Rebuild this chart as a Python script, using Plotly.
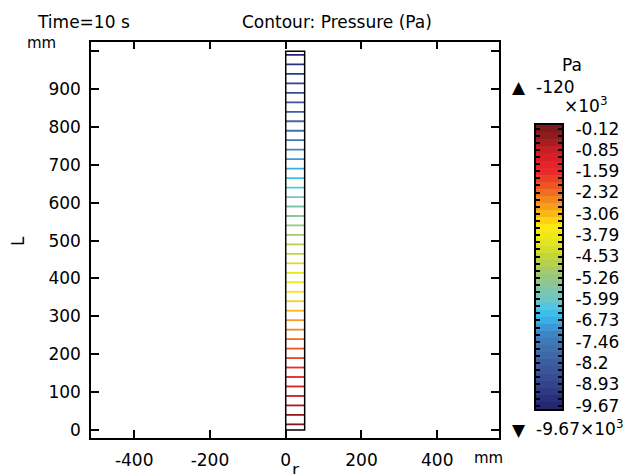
import plotly.graph_objects as go
from plotly.colors import sample_colorscale

# ---------------- data ----------------
# contour levels (Pa), from top of colour legend (-120) to bottom (-9670)
levels_pa = [-120, -365, -610, -855, -1099, -1344, -1589, -1834, -2079, -2324,
             -2569, -2814, -3058, -3303, -3548, -3793, -4038, -4283, -4528, -4773,
             -5017, -5262, -5507, -5752, -5997, -6242, -6487, -6732, -6976, -7221,
             -7466, -7711, -7956, -8201, -8446, -8691, -8935, -9180, -9425, -9670]
# height L (mm) at which each contour level lies
line_L = [15, 40, 65, 90, 115, 140, 165, 190, 215, 240,
          265, 290, 315, 340, 365, 390, 415, 440, 465, 490,
          515, 540, 565, 590, 615, 640, 665, 690, 715, 740,
          765, 790, 815, 840, 865, 890, 915, 940, 965, 990]
# domain (mm)
domain_r = [0, 50]
domain_L = [0, 1000]

x_tickvals = [-400, -200, 0, 200, 400]
x_ticktext = ['-400', '-200', '0', '200', '400']
y_tickvals = [0, 100, 200, 300, 400, 500, 600, 700, 800, 900, 1000]
y_ticktext = ['0', '100', '200', '300', '400', '500', '600', '700', '800', '900', ' ']
cb_ticktext = ['-0.12', '-0.85', '-1.59', '-2.32', '-3.06', '-3.79', '-4.53',
               '-5.26', '-5.99', '-6.73', '-7.46', '-8.2', '-8.93', '-9.67']

# ---------------- style ----------------
W, H = 627, 474
FONT = "DejaVu Sans"
rainbow = [
    [0.000, '#25266f'], [0.026, '#28307e'], [0.077, '#33448c'], [0.128, '#3a559a'],
    [0.180, '#3f68a8'], [0.231, '#4078b8'], [0.270, '#3f8ccc'], [0.305, '#38ace4'],
    [0.340, '#3ec4f0'], [0.372, '#62c6d6'], [0.410, '#7cc6b0'], [0.450, '#92c68c'],
    [0.490, '#a8ca64'], [0.540, '#c4d636'], [0.590, '#e4e420'], [0.636, '#f8ec14'],
    [0.667, '#fdd20e'], [0.700, '#f9b018'], [0.740, '#f48a20'], [0.795, '#ee5424'],
    [0.850, '#e8282a'], [0.885, '#e2202a'], [0.923, '#c41e26'], [0.962, '#9a1c20'],
    [1.000, '#7a1a1c'],
]

pmin, pmax = min(levels_pa), max(levels_pa)
fracs = [(p - pmin) / (pmax - pmin) for p in levels_pa]
line_colors = sample_colorscale(rainbow, fracs)


def px(x, y):
    return x / W, 1 - y / H


fig = go.Figure()

# contour lines
for L, c in zip(line_L, line_colors):
    fig.add_trace(go.Scatter(x=domain_r, y=[L, L], mode='lines',
                             line=dict(color=c, width=1.8),
                             hoverinfo='skip', showlegend=False))

# domain outline
fig.add_trace(go.Scatter(
    x=[domain_r[0], domain_r[1], domain_r[1], domain_r[0], domain_r[0]],
    y=[domain_L[0], domain_L[0], domain_L[1], domain_L[1], domain_L[0]],
    mode='lines', line=dict(color='black', width=1.5),
    hoverinfo='skip', showlegend=False))

# colour legend as a heatmap
cb_y = [p / 1000 for p in levels_pa]
fig.add_trace(go.Heatmap(x=[0], y=cb_y, z=[[p] for p in levels_pa],
                         colorscale=rainbow, zmin=pmin, zmax=pmax,
                         showscale=False, xaxis='x2', yaxis='y2',
                         hoverinfo='skip'))
step = (max(cb_y) - min(cb_y)) / (len(cb_y) - 1)

axis_common = dict(showline=True, linecolor='black', linewidth=1.5,
                   ticks='inside', ticklen=8, tickwidth=1.5, tickcolor='black',
                   mirror='ticks', showgrid=False, zeroline=False,
                   automargin=False,
                   tickfont=dict(family=FONT, size=17, color='black'))

fig.update_layout(
    width=W, height=H, margin=dict(l=0, r=0, t=0, b=0, autoexpand=False),
    paper_bgcolor='white', plot_bgcolor='white',
    font=dict(family=FONT, size=17, color='black'),
    showlegend=False,
    xaxis=dict(domain=[91 / W, 499 / W], range=[-514, 563],
               tickmode='array', tickvals=x_tickvals, ticktext=x_ticktext,
               ticklabelstandoff=6, anchor='y', **axis_common),
    yaxis=dict(domain=[(H - 438) / H, (H - 41.7) / H], range=[-21, 1025],
               tickmode='array', tickvals=y_tickvals, ticktext=y_ticktext,
               ticklabelstandoff=5, anchor='x', **axis_common),
    xaxis2=dict(domain=[535.7 / W, 562.3 / W], range=[-0.5, 0.5],
                showline=True, linecolor='black', linewidth=1.5, mirror=True,
                ticks='', showticklabels=False, showgrid=False, zeroline=False,
                automargin=False, anchor='y2'),
    yaxis2=dict(domain=[(H - 409.3) / H, (H - 125) / H],
                range=[min(cb_y) - step / 2, max(cb_y) + step / 2],
                side='right', anchor='x2', automargin=False,
                tickmode='array', tickvals=cb_y[::3], ticktext=cb_ticktext,
                ticks='inside', ticklen=5, tickwidth=1.5, tickcolor='black',
                mirror='ticks', showline=True, linecolor='black', linewidth=1.5,
                showgrid=False, zeroline=False, ticklabelstandoff=8,
                minor=dict(tickmode='array', tickvals=cb_y, ticks='inside',
                           ticklen=5, tickwidth=1.5, tickcolor='black'),
                tickfont=dict(family=FONT, size=17, color='black')),
)

ann = []


def add(text, x, y, xanchor='center', yanchor='middle', size=17, angle=0):
    xx, yy = px(x, y)
    ann.append(dict(text=text, x=xx, y=yy, xref='paper', yref='paper',
                    xanchor=xanchor, yanchor=yanchor, showarrow=False,
                    textangle=angle,
                    font=dict(family=FONT, size=size, color='black')))


add('Time=10 s', 35, 22, xanchor='left')
add('Contour: Pressure (Pa)', 336.5, 22)
add('mm', 41.7, 43, size=15)
add('mm', 488.7, 458, size=15)
add('L', 18, 241, angle=-90)
add('r', 295, 470)
add('Pa', 571.7, 65)
add('▲', 519, 87)
add('-120', 534, 87, xanchor='left')
add('×10<sup>3</sup>', 562, 105, xanchor='left')
add('▼', 519, 430)
add('-9.67×10<sup>3</sup>', 534, 428, xanchor='left')
fig.update_layout(annotations=ann)

fig.write_html("out.html")
